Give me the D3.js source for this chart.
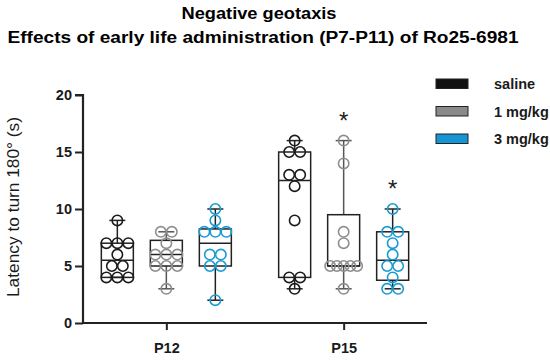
<!DOCTYPE html>
<html>
<head>
<meta charset="utf-8">
<script src="https://cdn.jsdelivr.net/npm/d3@7"></script>
<style>
  body { margin: 0; background: #fff; }
  svg { font-family: 'Liberation Sans', Arial, sans-serif; }
</style>
</head>
<body>
<div id="chart"></div>
<script>
// data (n = 10 per group)
const days = ['P12', 'P15'];
const groups = ['saline', '1 mg/kg', '3 mg/kg'];
const p12Saline = [4, 4, 4, 5, 5, 6, 7, 7, 7, 9];
const p12Low = [3, 5, 5, 5, 6, 6, 6, 7, 8, 8];
const p12High = [2, 5, 5, 6, 6, 8, 8, 8, 9, 10];
const p15Saline = [3, 4, 4, 9, 12, 13, 13, 15, 15, 16];
const p15Low = [3, 5, 5, 5, 5, 5, 7, 8, 14, 16];
const p15High = [3, 3, 4, 5, 5, 6, 7, 8, 8, 10];
const yTicks = [0, 5, 10, 15, 20];
const significant = [['P15', '1 mg/kg'], ['P15', '3 mg/kg']];

const colors = { 'saline': '#1b1b1b', '1 mg/kg': '#8e8e8e', '3 mg/kg': '#1b9bd4' };
const legendFill = { 'saline': '#111', '1 mg/kg': '#8a8a8a', '3 mg/kg': '#1596d2' };

const series = [
  { day: 'P12', group: 'saline', values: p12Saline },
  { day: 'P12', group: '1 mg/kg', values: p12Low },
  { day: 'P12', group: '3 mg/kg', values: p12High },
  { day: 'P15', group: 'saline', values: p15Saline },
  { day: 'P15', group: '1 mg/kg', values: p15Low },
  { day: 'P15', group: '3 mg/kg', values: p15High },
];

const width = 550;
const height = 361;
const boxW = 32;

const svg = d3.select('#chart').append('svg')
  .attr('width', width)
  .attr('height', height);

const y = d3.scaleLinear().domain([0, 20]).range([323, 95]);
const x = d3.scalePoint().domain(days).range([83, 427]).padding(0.47);
const xg = d3.scalePoint().domain(groups).range([-49, 49]);

// quartiles the GraphPad way: position p*(n+1)
function quart(sorted, p) {
  const pos = p * (sorted.length + 1) - 1;
  const lo = Math.max(0, Math.floor(pos));
  const hi = Math.min(sorted.length - 1, lo + 1);
  return sorted[lo] + (pos - lo) * (sorted[hi] - sorted[lo]);
}

// titles (the figure is a bit stretched sideways, hence textLength)
svg.append('text')
  .attr('x', 259).attr('y', 19)
  .attr('text-anchor', 'middle')
  .attr('font-size', 16).attr('font-weight', 'bold')
  .attr('textLength', 155).attr('lengthAdjust', 'spacingAndGlyphs')
  .text('Negative geotaxis');
svg.append('text')
  .attr('x', 263).attr('y', 43)
  .attr('text-anchor', 'middle')
  .attr('font-size', 16).attr('font-weight', 'bold')
  .attr('textLength', 511).attr('lengthAdjust', 'spacingAndGlyphs')
  .text('Effects of early life administration (P7-P11) of Ro25-6981');

// axes
const yAxis = svg.append('g')
  .attr('transform', 'translate(83,0)')
  .call(d3.axisLeft(y).tickValues(yTicks).tickSize(8).tickPadding(3));
const xAxis = svg.append('g')
  .attr('transform', `translate(0,${y(0)})`)
  .call(d3.axisBottom(x).tickSize(7).tickPadding(13));

[yAxis, xAxis].forEach((ax) => {
  ax.select('.domain').attr('stroke', '#222').attr('stroke-width', 2.2);
  ax.selectAll('.tick line').attr('stroke', '#222').attr('stroke-width', 2);
  ax.selectAll('.tick text')
    .attr('fill', '#1a1a1a')
    .attr('font-size', 14.5)
    .attr('font-weight', 'bold')
    .attr('font-family', "'Liberation Sans', Arial, sans-serif");
});
yAxis.select('.domain').attr('d', `M-8,${y(20)}H0V${y(0) + 1}`);
xAxis.select('.domain').attr('d', `M83,0H427`);

svg.append('text')
  .attr('transform', 'translate(19,207) rotate(-90)')
  .attr('text-anchor', 'middle')
  .attr('font-size', 17)
  .attr('fill', '#1a1a1a')
  .attr('textLength', 180).attr('lengthAdjust', 'spacingAndGlyphs')
  .text('Latency to turn 180° (s)');

// boxes
const plot = svg.append('g');
series.forEach((s) => {
  const cx = x(s.day) + xg(s.group);
  const v = s.values.slice().sort(d3.ascending);
  const q1 = quart(v, 0.25);
  const med = quart(v, 0.5);
  const q3 = quart(v, 0.75);
  const lo = v[0];
  const hi = v[v.length - 1];
  const g = plot.append('g');
  const whiskerColor = s.group === '1 mg/kg' ? '#555' : '#222';

  g.append('line')
    .attr('x1', cx).attr('x2', cx)
    .attr('y1', y(hi)).attr('y2', y(q3))
    .attr('stroke', whiskerColor).attr('stroke-width', 1.5);
  g.append('line')
    .attr('x1', cx).attr('x2', cx)
    .attr('y1', y(q1)).attr('y2', y(lo))
    .attr('stroke', whiskerColor).attr('stroke-width', 1.5);
  [lo, hi].forEach((c) => {
    g.append('line')
      .attr('x1', cx - 8).attr('x2', cx + 8)
      .attr('y1', y(c)).attr('y2', y(c))
      .attr('stroke', whiskerColor).attr('stroke-width', 1.5);
  });
  g.append('rect')
    .attr('x', cx - boxW / 2).attr('width', boxW)
    .attr('y', y(q3)).attr('height', y(q1) - y(q3))
    .attr('fill', 'none')
    .attr('stroke', '#222').attr('stroke-width', 1.5);
  g.append('line')
    .attr('x1', cx - boxW / 2).attr('x2', cx + boxW / 2)
    .attr('y1', y(med)).attr('y2', y(med))
    .attr('stroke', '#222').attr('stroke-width', 1.5);

  // spread equal values side by side
  const counts = d3.rollup(v, (a) => a.length, (d) => d);
  const seen = new Map();
  const pts = v.map((d) => {
    const k = counts.get(d);
    const i = seen.get(d) || 0;
    seen.set(d, i + 1);
    const gap = k > 3 ? 27 / (k - 1) : 11;
    return { value: d, dx: (i - (k - 1) / 2) * gap };
  });
  g.selectAll('circle')
    .data(pts)
    .enter()
    .append('circle')
    .attr('cx', (d) => cx + d.dx)
    .attr('cy', (d) => y(d.value))
    .attr('r', 5.2)
    .attr('fill', 'none')
    .attr('stroke', colors[s.group])
    .attr('stroke-width', 1.6);
});

// significance stars
significant.forEach(([day, group]) => {
  const s = series.find((d) => d.day === day && d.group === group);
  svg.append('text')
    .attr('x', x(day) + xg(group))
    .attr('y', y(d3.max(s.values)) - 12)
    .attr('text-anchor', 'middle')
    .attr('font-size', 24)
    .attr('fill', '#222')
    .text('*');
});

// legend
const legend = svg.append('g').attr('transform', 'translate(436,79)');
groups.forEach((grp, i) => {
  const row = legend.append('g').attr('transform', `translate(0,${i * 27.5})`);
  row.append('rect')
    .attr('width', 32).attr('height', 9.5)
    .attr('fill', legendFill[grp])
    .attr('stroke', '#222').attr('stroke-width', 1);
  row.append('text')
    .attr('x', 58).attr('y', 10)
    .attr('font-size', 14.5)
    .attr('font-weight', 'bold')
    .attr('fill', '#1a1a1a')
    .text(grp);
});
</script>
</body>
</html>
